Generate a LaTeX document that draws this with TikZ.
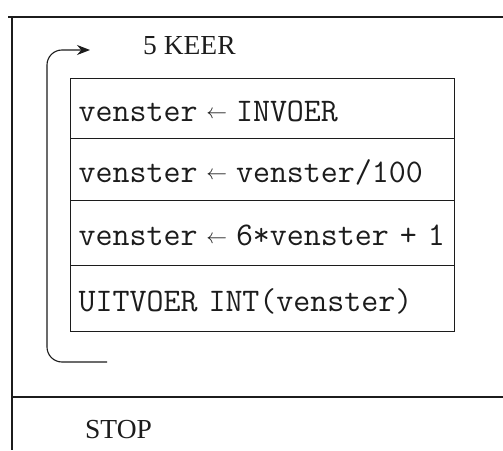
\documentclass[tikz,border=0pt]{standalone}
\usepackage{fontspec}
\setmainfont{Liberation Serif}
\usetikzlibrary{arrows.meta,positioning}
\definecolor{Ink}{HTML}{1C1C1C}
\newcommand\asg{\makebox[0.5em]{\raisebox{2.5pt}{\fontsize{20}{20}\selectfont$\leftarrow$}}}
\tikzset{
  frm/.style={draw=Ink,line width=1.1pt},
  stp/.style={rectangle,draw=Ink,line width=1.1pt,anchor=north west,minimum width=384pt,text width=368pt,inner xsep=8pt,inner ysep=0pt,align=left,text=Ink,font=\ttfamily\fontsize{33}{36}\selectfont,text height=25pt,text depth=0pt},
  lbl/.style={anchor=base west,inner sep=0pt,text=Ink,font=\fontsize{27.5}{30}\selectfont},
  loopline/.style={draw=Ink,line width=1.1pt,rounded corners=15pt,-{Stealth[length=13pt,width=10pt]}},
}
\begin{document}
\begin{tikzpicture}[x=1pt,y=1pt]
\useasboundingbox (0,0) rectangle (503,450);
% -frame-
\draw[frm] (8,433) -- (503,433);
\draw[frm] (12,433) -- (12,0);
\draw[frm] (12,53) -- (503,53);
% -loop-
\node[lbl] (keer) at (143,395) {5 KEER};
\node[stp,minimum height=60pt] (r1) at (70,372) {venster \asg{} INVOER};
\node[stp,minimum height=62pt] (r2) at (70,312) {venster \asg{} venster/100};
\node[stp,minimum height=65pt] (r3) at (70,250) {venster \asg{} 6*venster + 1};
\node[stp,minimum height=66pt] (r4) at (70,185) {UITVOER INT(venster)};
\coordinate (lb) at (107,88);
\coordinate (lt) at (90,400);
\draw[loopline] (lb) -| (47,250) |- (lt);
% -stop-
\node[lbl] (stop) at (85,12) {STOP};
\end{tikzpicture}
\end{document}
